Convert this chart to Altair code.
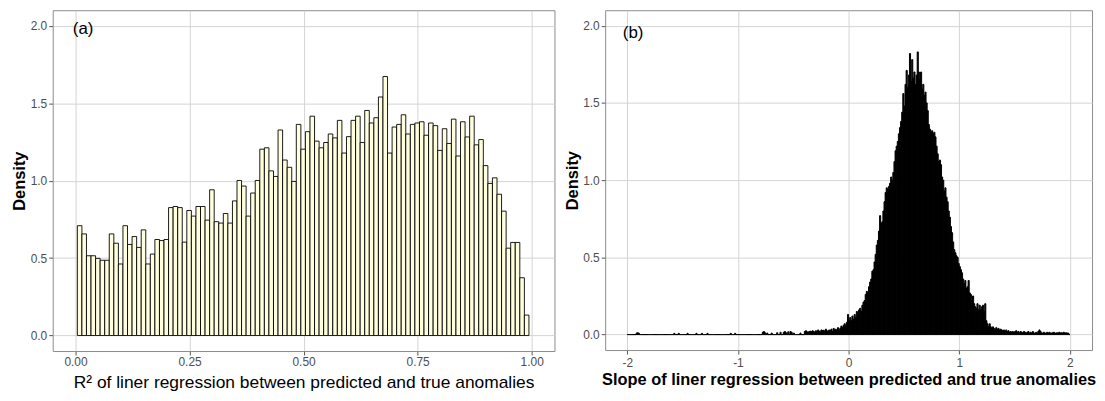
import altair as alt
import pandas as pd

# ---------------- data: panel (a) R^2 histogram ----------------
r2_first_bin = 0.004
r2_bin_width = 0.01
r2_density = [
    0.709, 0.656, 0.515, 0.515, 0.498, 0.486, 0.486, 0.656, 0.596, 0.462,
    0.709, 0.588, 0.639, 0.569, 0.682, 0.462, 0.526, 0.620, 0.613, 0.620,
    0.826, 0.833, 0.826, 0.603, 0.807, 0.771, 0.833, 0.833, 0.745, 0.941,
    0.735, 0.726, 0.788, 0.726, 0.869, 1.001, 0.965, 0.771, 0.920, 1.001,
    1.203, 1.212, 1.063, 1.027, 1.327, 1.133, 1.086, 0.995, 1.363, 1.203,
    1.316, 1.416, 1.255, 1.212, 1.246, 1.301, 1.276, 1.389, 1.178, 1.284,
    1.389, 1.416, 1.246, 1.453, 1.372, 1.406, 1.540, 1.672, 1.178, 1.346,
    1.363, 1.425, 1.301, 1.363, 1.372, 1.380, 1.293, 1.372, 1.355, 1.195,
    1.335, 1.240, 1.397, 1.159, 1.380, 1.282, 1.416, 1.231, 1.265, 1.097,
    0.982, 1.018, 0.912, 0.803, 0.564, 0.601, 0.601, 0.373, 0.132,
]

# ---------------- data: panel (b) slope histogram ----------------
slope_first_bin = -2.0
slope_bin_width = 0.01
slope_density = [
    # -2.00 .. -1.81
    0, 0, 0, 0, 0, 0, 0, 0, 0.010, 0.012, 0.008, 0, 0, 0, 0, 0, 0, 0, 0, 0,
    # -1.80 .. -1.61
    0, 0, 0, 0, 0, 0, 0, 0, 0, 0, 0, 0, 0, 0, 0, 0, 0, 0, 0, 0,
    # -1.60 .. -1.41
    0, 0, 0.008, 0, 0, 0, 0.008, 0, 0, 0, 0, 0, 0, 0, 0.008, 0, 0, 0, 0, 0,
    # -1.40 .. -1.21
    0, 0, 0.008, 0, 0, 0, 0, 0.008, 0, 0, 0, 0, 0.008, 0, 0, 0, 0, 0, 0, 0,
    # -1.20 .. -1.01
    0, 0, 0, 0, 0, 0, 0, 0, 0, 0, 0, 0, 0, 0.008, 0, 0, 0, 0.008, 0, 0,
    # -1.00 .. -0.81
    0, 0, 0, 0, 0, 0, 0, 0, 0, 0, 0, 0, 0, 0, 0, 0, 0, 0, 0, 0,
    # -0.80 .. -0.61
    0, 0, 0.015, 0.020, 0.012, 0, 0.010, 0, 0, 0, 0.010, 0, 0, 0, 0, 0.012, 0, 0, 0.015, 0,
    # -0.60 .. -0.41
    0, 0.015, 0.020, 0.012, 0, 0.018, 0, 0.020, 0.015, 0, 0.010, 0, 0, 0, 0, 0, 0.010, 0, 0, 0,
    # -0.40 .. -0.21
    0.020, 0.025, 0.018, 0.015, 0.020, 0.022, 0.018, 0.025, 0.020, 0.015,
    0.025, 0.020, 0.030, 0.022, 0.018, 0.030, 0.025, 0.028, 0.020, 0.035,
    # -0.20 .. -0.01
    0.025, 0.020, 0.030, 0.025, 0.035, 0.020, 0.040, 0.030, 0.035, 0.025,
    0.045, 0.030, 0.040, 0.055, 0.045, 0.060, 0.070, 0.055, 0.080, 0.130,
    # 0.00 .. 0.19
    0.09, 0.11, 0.09, 0.12, 0.10, 0.13, 0.11, 0.15, 0.13, 0.16,
    0.17, 0.15, 0.19, 0.21, 0.22, 0.26, 0.28, 0.27, 0.31, 0.34,
    # 0.20 .. 0.39
    0.36, 0.41, 0.42, 0.47, 0.52, 0.58, 0.61, 0.67, 0.77, 0.72,
    0.73, 0.80, 0.86, 0.92, 0.95, 0.94, 0.96, 0.98, 1.02, 1.00,
    # 0.40 .. 0.59
    1.05, 1.12, 1.19, 1.22, 1.25, 1.30, 1.34, 1.38, 1.44, 1.56,
    1.48, 1.62, 1.71, 1.60, 1.68, 1.82, 1.64, 1.78, 1.66, 1.70,
    # 0.60 .. 0.79
    1.62, 1.68, 1.83, 1.70, 1.65, 1.70, 1.59, 1.62, 1.55, 1.57,
    1.50, 1.45, 1.36, 1.33, 1.31, 1.32, 1.30, 1.31, 1.28, 1.22,
    # 0.80 .. 0.99
    1.17, 1.12, 1.13, 1.10, 1.02, 1.00, 0.93, 0.95, 0.89, 0.86,
    0.80, 0.76, 0.70, 0.66, 0.60, 0.55, 0.53, 0.51, 0.50, 0.46,
    # 1.00 .. 1.19
    0.44, 0.42, 0.40, 0.36, 0.33, 0.35, 0.30, 0.31, 0.35, 0.27,
    0.26, 0.22, 0.25, 0.20, 0.18, 0.17, 0.20, 0.16, 0.19, 0.16,
    # 1.20 .. 1.39
    0.18, 0.19, 0.15, 0.20, 0.09, 0.07, 0.05, 0.07, 0.05, 0.04,
    0.05, 0.04, 0.03, 0.045, 0.035, 0.04, 0.03, 0.035, 0.03, 0.025,
    # 1.40 .. 1.59
    0.030, 0.020, 0.030, 0.020, 0.025, 0.015, 0.020, 0.015, 0.020, 0.010,
    0.020, 0.025, 0.015, 0.020, 0.010, 0.020, 0.015, 0.010, 0.020, 0.015,
    # 1.60 .. 1.79
    0.010, 0.015, 0.020, 0.010, 0.015, 0.010, 0.020, 0.010, 0.010, 0.015,
    0.010, 0.020, 0.030, 0.020, 0.010, 0.010, 0.015, 0.010, 0.010, 0.015,
    # 1.80 .. 1.99
    0.010, 0.015, 0.010, 0.010, 0.012, 0.015, 0.010, 0.010, 0.012, 0.010,
    0.015, 0.010, 0.012, 0.010, 0.015, 0.010, 0.012, 0.010, 0.010, 0.000,
]

# panel tags
tag_a = {"x": [-0.006], "y": [1.98], "label": ["(a)"]}
tag_b = {"x": [-2.04], "y": [1.95], "label": ["(b)"]}

left_ticks = [0, 0.25, 0.5, 0.75, 1.0]
right_ticks = [-2, -1, 0, 1, 2]
y_ticks = [0, 0.5, 1.0, 1.5, 2.0]

FONT = "Liberation Sans"


def hist_frame(first, width, dens):
    starts = [round(first + i * width, 4) for i in range(len(dens))]
    return pd.DataFrame({
        "x": starts,
        "x2": [round(s + width, 4) for s in starts],
        "density": dens,
    })


df_a = hist_frame(r2_first_bin, r2_bin_width, r2_density)
df_b = hist_frame(slope_first_bin, slope_bin_width, slope_density)

common_axis = dict(
    grid=True, gridColor="#D4D4D4", gridWidth=1,
    domain=False, ticks=True, tickColor="#555555", tickSize=4,
    labelFont=FONT, labelFontSize=12, labelColor="#4D4D4D", labelPadding=2,
    titleFont=FONT, titleColor="black",
)

y_axis = alt.Axis(values=y_ticks, format=".1f", title="Density",
                  titleFontWeight="bold", titleFontSize=16.5, titlePadding=2,
                  minExtent=23, maxExtent=23, **common_axis)

# ----- left panel -----
left_x = alt.X("x:Q", scale=alt.Scale(domain=[-0.05, 1.05], nice=False, zero=False),
               axis=alt.Axis(values=left_ticks, format=".2f",
                             title="R² of liner regression between predicted and true anomalies",
                             titleFontWeight="normal", titleFontSize=17.5, titlePadding=6,
                             **common_axis))
left_y = alt.Y("density:Q", scale=alt.Scale(domain=[-0.1, 2.1], nice=False, zero=False),
               axis=y_axis)

bars_a = alt.Chart(df_a).mark_rect(fill="#FFFFE0", stroke="black", strokeWidth=0.9).encode(
    x=left_x, x2="x2:Q", y=left_y, y2=alt.datum(0)
)
text_a = alt.Chart(pd.DataFrame(tag_a)).mark_text(
    align="left", baseline="middle", font=FONT, fontSize=17, color="black"
).encode(x="x:Q", y="y:Q", text="label:N")

left = alt.layer(bars_a, text_a).properties(width=505, height=343)

# ----- right panel -----
right_x = alt.X("x:Q", scale=alt.Scale(domain=[-2.2, 2.2], nice=False, zero=False),
                axis=alt.Axis(values=right_ticks, labelExpr="datum.value + ''",
                              title="Slope of liner regression between predicted and true anomalies",
                              titleFontWeight="bold", titleFontSize=16.5, titlePadding=3,
                              labelPadding=4, **{k: v for k, v in common_axis.items() if k != "labelPadding"}))
right_y = alt.Y("density:Q", scale=alt.Scale(domain=[-0.1, 2.1], nice=False, zero=False),
                axis=y_axis)

bars_b = alt.Chart(df_b).mark_rect(fill="black", stroke="black", strokeWidth=1).encode(
    x=right_x, x2="x2:Q", y=right_y, y2=alt.datum(0)
)
text_b = alt.Chart(pd.DataFrame(tag_b)).mark_text(
    align="left", baseline="middle", font=FONT, fontSize=17, color="black"
).encode(x="x:Q", y="y:Q", text="label:N")

right = alt.layer(bars_b, text_b).properties(width=490, height=342)

chart = alt.hconcat(left, right, spacing=8).properties(
    padding={"left": 3, "top": 0, "right": 0, "bottom": 0}
).configure_view(
    stroke="#8C8C8C", strokeWidth=1
).resolve_scale(x="independent")

chart.save("out.html", embed_options={"renderer": "svg", "actions": False})
